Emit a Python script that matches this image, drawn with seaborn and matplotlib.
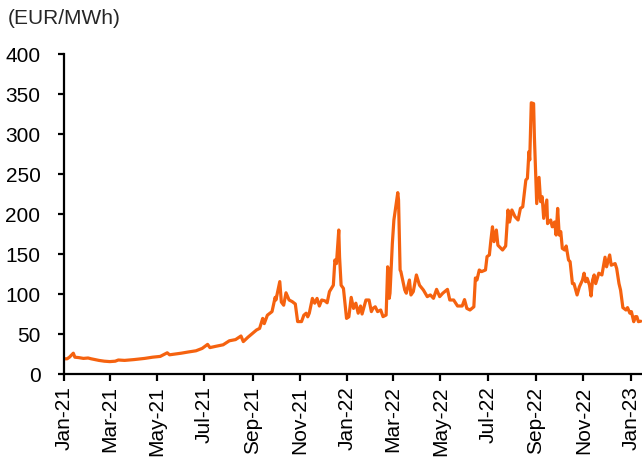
import pandas as pd
import seaborn as sns
import matplotlib.pyplot as plt
import matplotlib.dates as mdates

# Gas price readings (EUR/MWh)
dates_2021 = [
    "2021-01-01", "2021-01-05", "2021-01-08", "2021-01-13", "2021-01-15", "2021-01-20",
    "2021-01-26", "2021-02-01", "2021-02-05", "2021-02-10", "2021-02-15", "2021-02-22",
    "2021-03-01", "2021-03-08", "2021-03-12", "2021-03-20", "2021-04-01", "2021-04-15",
    "2021-04-25", "2021-05-05", "2021-05-14", "2021-05-17", "2021-05-25", "2021-06-01",
    "2021-06-10", "2021-06-20", "2021-06-28", "2021-07-05", "2021-07-08", "2021-07-15",
    "2021-07-25", "2021-08-02", "2021-08-10", "2021-08-17", "2021-08-20", "2021-08-26",
    "2021-09-01", "2021-09-06", "2021-09-10", "2021-09-14", "2021-09-16", "2021-09-20",
    "2021-09-26", "2021-09-30", "2021-10-01", "2021-10-06", "2021-10-08", "2021-10-11",
    "2021-10-14", "2021-10-18", "2021-10-22", "2021-10-26", "2021-10-29", "2021-11-03",
    "2021-11-06", "2021-11-09", "2021-11-11", "2021-11-13", "2021-11-17", "2021-11-20",
    "2021-11-23", "2021-11-26", "2021-11-29", "2021-12-03", "2021-12-06", "2021-12-09",
    "2021-12-14", "2021-12-16", "2021-12-18", "2021-12-21", "2021-12-22", "2021-12-24",
    "2021-12-27", "2021-12-31",
]
prices_2021 = [
    19, 19, 21, 26, 21, 20.5,
    19.5, 20, 19, 18, 17, 16,
    15.5, 16, 17.5, 17, 18, 19.5,
    21, 22, 26.5, 24, 25, 26,
    27.5, 29, 32, 37, 33, 34.5,
    36.5, 41.5, 43, 47.5, 40.5, 46,
    51, 55, 57, 69.5, 63, 73.5,
    78, 95.8, 92.5, 115.5, 90, 86,
    101.5, 92.5, 90.5, 87.5, 65.5, 65.5,
    73.5, 76, 71.5, 76, 94.5, 88.5,
    94.5, 85, 92.5, 91.5, 89, 103,
    111, 142.5, 138, 180, 146.5, 111,
    107, 69.5,
]

dates_2022 = [
    "2022-01-03", "2022-01-06", "2022-01-09", "2022-01-12", "2022-01-15", "2022-01-18",
    "2022-01-20", "2022-01-25", "2022-01-29", "2022-02-01", "2022-02-03", "2022-02-06",
    "2022-02-09", "2022-02-13", "2022-02-16", "2022-02-20", "2022-02-22", "2022-02-24",
    "2022-02-25", "2022-02-28", "2022-03-02", "2022-03-07", "2022-03-08", "2022-03-10",
    "2022-03-11", "2022-03-16", "2022-03-18", "2022-03-22", "2022-03-24", "2022-03-27",
    "2022-03-31", "2022-04-04", "2022-04-09", "2022-04-14", "2022-04-18", "2022-04-22",
    "2022-04-26", "2022-04-30", "2022-05-04", "2022-05-10", "2022-05-13", "2022-05-18",
    "2022-05-23", "2022-05-29", "2022-06-01", "2022-06-04", "2022-06-08", "2022-06-13",
    "2022-06-15", "2022-06-17", "2022-06-20", "2022-06-23", "2022-06-28", "2022-06-30",
    "2022-07-03", "2022-07-05", "2022-07-07", "2022-07-09", "2022-07-12", "2022-07-14",
    "2022-07-20", "2022-07-24", "2022-07-27", "2022-07-29", "2022-08-01", "2022-08-05",
    "2022-08-09", "2022-08-12", "2022-08-15", "2022-08-17", "2022-08-19", "2022-08-21",
    "2022-08-23", "2022-08-24", "2022-08-26", "2022-08-29", "2022-08-30", "2022-09-01",
    "2022-09-02", "2022-09-05", "2022-09-07", "2022-09-09", "2022-09-11", "2022-09-15",
    "2022-09-16", "2022-09-20", "2022-09-22", "2022-09-25", "2022-09-27", "2022-09-29",
    "2022-10-01", "2022-10-03", "2022-10-05", "2022-10-08", "2022-10-10", "2022-10-13",
    "2022-10-15", "2022-10-18", "2022-10-20", "2022-10-24", "2022-10-27", "2022-10-31",
    "2022-11-02", "2022-11-04", "2022-11-06", "2022-11-09", "2022-11-11", "2022-11-13",
    "2022-11-15", "2022-11-17", "2022-11-21", "2022-11-25", "2022-11-29", "2022-12-01",
    "2022-12-05", "2022-12-07", "2022-12-12", "2022-12-14", "2022-12-17", "2022-12-19",
    "2022-12-22", "2022-12-26", "2022-12-28", "2022-12-31",
]
prices_2022 = [
    71.5, 95.8, 82, 88.5, 76, 85,
    75, 92.5, 92.5, 78, 82, 84,
    78, 80, 71.7, 73.7, 134, 94.6,
    101, 163, 192.5, 226.7, 217.5, 130,
    128, 105, 101, 117.5, 98.8, 103,
    123.8, 111, 105, 96.7, 98.8, 94.6,
    105.8, 96.7, 101, 105.8, 92.5, 92.5,
    85, 85, 93, 82, 80, 84,
    120, 117.5, 130, 128, 130, 146.7,
    148.8, 167.5, 184, 165.4, 180, 161,
    155, 160, 205, 190, 205, 196.7,
    192.5, 207, 209, 226, 242.5, 244.6,
    278, 267.5, 339, 338, 296.7, 240,
    213, 245.8, 215.4, 221.7, 194.6, 217.5,
    188, 192.5, 184, 190, 173.7, 207,
    173.7, 178, 157, 155, 160, 142.5,
    140.4, 113, 113, 98.8, 109, 117.5,
    126, 115.4, 119.6, 111, 97.5, 117.5,
    123.8, 113, 126, 123.8, 146, 134,
    148.8, 136, 138, 132, 113, 105,
    83, 80, 83, 76,
]

dates_2023 = ["2023-01-02", "2023-01-05", "2023-01-07", "2023-01-09", "2023-01-11", "2023-01-14"]
prices_2023 = [78, 65.4, 71.7, 71.7, 65.4, 66]

df = pd.DataFrame({
    "date": pd.to_datetime(dates_2021 + dates_2022 + dates_2023),
    "price": prices_2021 + prices_2022 + prices_2023,
})

sns.set_theme(style="ticks")
plt.rcParams["font.family"] = ["Liberation Sans", "DejaVu Sans"]

fig = plt.figure(figsize=(6.42, 4.59), dpi=100)
ax = fig.add_axes([64 / 642, 85 / 459, 577.5 / 642, 320 / 459])

sns.lineplot(data=df, x="date", y="price", color="#F5620F", linewidth=2.3, ax=ax)

# Axes styling: only left and bottom spines, ticks outward
for side in ["top", "right"]:
    ax.spines[side].set_visible(False)
for side in ["left", "bottom"]:
    ax.spines[side].set_linewidth(1.6)
    ax.spines[side].set_color("black")

ax.set_ylim(0, 400)
ax.set_yticks(range(0, 401, 50))
ax.set_xlim(pd.Timestamp("2021-01-01"), pd.Timestamp("2023-01-15"))
ax.xaxis.set_major_locator(mdates.MonthLocator(bymonth=[1, 3, 5, 7, 9, 11]))
ax.xaxis.set_major_formatter(mdates.DateFormatter("%b-%y"))

ax.tick_params(axis="y", direction="out", length=4, width=1.6, pad=13,
               labelsize=15, colors="black")
ax.tick_params(axis="x", direction="out", length=5, width=1.6, pad=4,
               labelsize=15, colors="black", labelrotation=90)

ax.set_xlabel("")
ax.set_ylabel("")

fig.text(8 / 642, 1 - 18 / 459, "(EUR/MWh)", fontsize=15, va="center", ha="left")

fig.savefig("out.png", dpi=100)
